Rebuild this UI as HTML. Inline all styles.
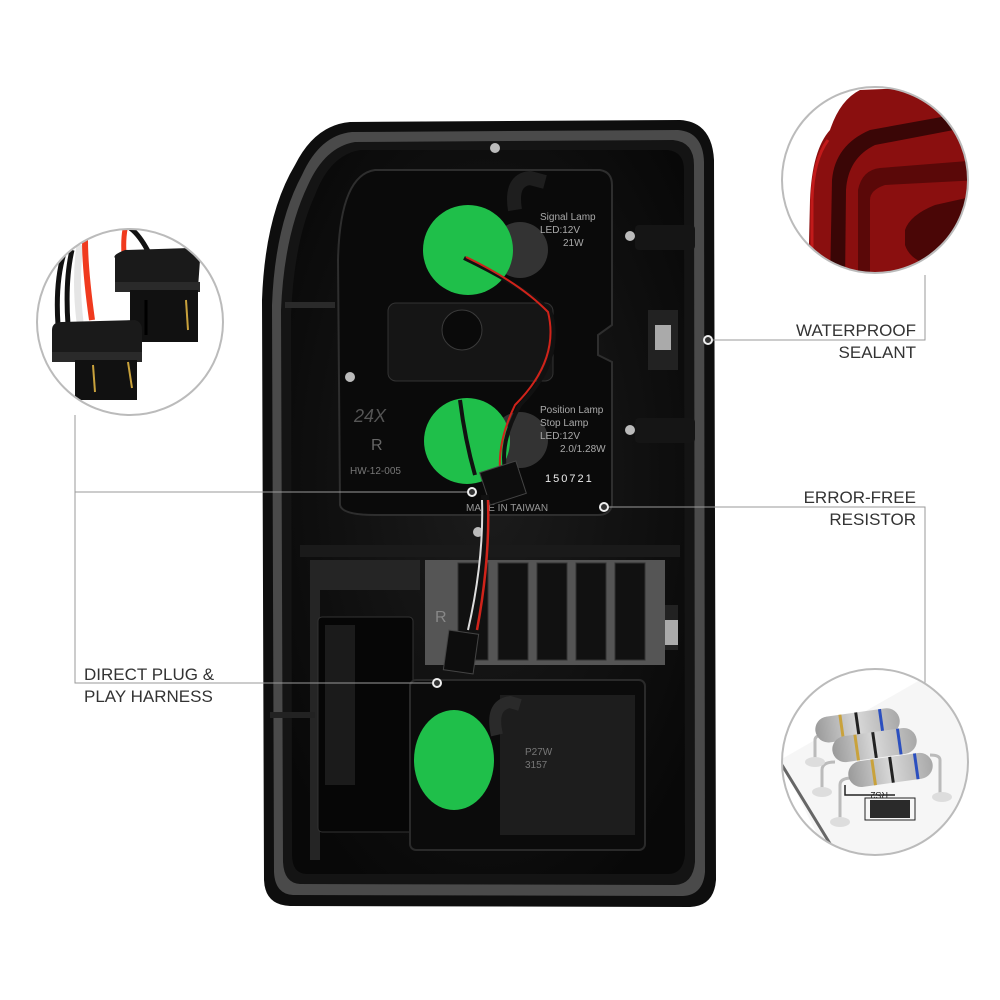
<!DOCTYPE html>
<html><head><meta charset="utf-8"><style>
html,body{margin:0;padding:0;background:#fff;}
svg{display:block}
text{font-family:"Liberation Sans",sans-serif;}
</style></head><body>
<svg width="1000" height="1000" viewBox="0 0 1000 1000" xmlns="http://www.w3.org/2000/svg">
<defs>
<radialGradient id="shade" cx="50%" cy="45%" r="65%"><stop offset="0" stop-color="#1c1c1c"/><stop offset="1" stop-color="#080808"/></radialGradient>
<linearGradient id="rg" x1="0" y1="0" x2="1" y2="0"><stop offset="0" stop-color="#9a9a9a"/><stop offset="0.5" stop-color="#d8d8d8"/><stop offset="1" stop-color="#a8a8a8"/></linearGradient>
<clipPath id="c1"><circle cx="130" cy="322" r="93"/></clipPath>
<clipPath id="c2"><circle cx="875" cy="180" r="93"/></clipPath>
<clipPath id="c3"><circle cx="875" cy="762" r="93"/></clipPath>
</defs>
<!-- housing -->
<path d="M350 122 L680 120 Q712 122 714 160 L716 880 Q714 906 690 907 L290 906 Q265 905 264 880 L262 300 Q265 215 295 165 Q315 125 350 122Z" fill="#0e0e0e"/>
<path d="M352 132 L678 130 Q703 132 704 162 L705 872 Q703 895 683 896 L293 895 Q275 894 274 872 L272 305 Q275 225 302 175 Q320 135 352 132Z" fill="#4a4a4a"/>
<path d="M355 142 L673 140 Q694 142 694 165 L695 862 Q693 884 675 885 L300 884 Q284 883 283 862 L281 310 Q284 235 308 185 Q325 147 355 142Z" fill="#141414"/>
<path d="M360 150 L668 150 Q684 152 684 170 L685 855 Q683 874 668 874 L306 874 Q292 873 292 855 L291 315 Q294 240 315 195 Q330 155 360 150Z" fill="url(#shade)"/>
<!-- upper plate -->
<path d="M375 170 L600 170 Q612 172 612 185 L612 325 L598 335 L598 355 L612 362 L612 505 Q610 515 598 515 L375 515 Q342 515 340 505 L338 260 Q340 175 375 170Z" fill="#0a0a0a" stroke="#2e2e2e" stroke-width="2"/>
<rect x="388" y="303" width="165" height="78" rx="8" fill="#151515" stroke="#333"/>
<circle cx="462" cy="330" r="20" fill="#0a0a0a" stroke="#3a3a3a"/>
<path d="M515 210 Q510 180 530 178 L545 182" stroke="#1e1e1e" stroke-width="14" fill="none"/>
<circle cx="520" cy="250" r="28" fill="#333"/>
<circle cx="520" cy="440" r="28" fill="#333"/>
<text x="540" y="220" fill="#aaa" font-size="10" font-family="Liberation Serif">Signal Lamp</text>
<text x="540" y="233" fill="#aaa" font-size="10" font-family="Liberation Serif">LED:12V</text>
<text x="563" y="246" fill="#aaa" font-size="10" font-family="Liberation Serif">21W</text>
<text x="540" y="413" fill="#aaa" font-size="10" font-family="Liberation Serif">Position Lamp</text>
<text x="540" y="426" fill="#aaa" font-size="10" font-family="Liberation Serif">Stop Lamp</text>
<text x="540" y="439" fill="#aaa" font-size="10" font-family="Liberation Serif">LED:12V</text>
<text x="560" y="452" fill="#aaa" font-size="10" font-family="Liberation Serif">2.0/1.28W</text>
<text x="354" y="422" fill="#555" font-size="18" font-family="Liberation Serif" font-style="italic">24X</text>
<text x="371" y="450" fill="#666" font-size="16">R</text>
<text x="350" y="474" fill="#777" font-size="10">HW-12-005</text>
<text x="545" y="482" fill="#eee" font-size="11" letter-spacing="2">150721</text>
<text x="466" y="511" fill="#999" font-size="10">MADE IN TAIWAN</text>
<!-- screws/clips -->
<g fill="#bbb"><circle cx="495" cy="148" r="5"/><circle cx="630" cy="236" r="5"/><circle cx="630" cy="430" r="5"/><circle cx="350" cy="377" r="5"/><circle cx="478" cy="532" r="5"/></g>
<rect x="635" y="225" width="60" height="25" rx="4" fill="#151515"/>
<rect x="635" y="418" width="60" height="25" rx="4" fill="#151515"/>
<rect x="648" y="310" width="30" height="60" fill="#222"/><rect x="655" y="325" width="16" height="25" fill="#aaa"/>
<rect x="648" y="605" width="30" height="45" fill="#222"/><rect x="650" y="620" width="28" height="25" fill="#aaa"/>
<rect x="285" y="302" width="50" height="6" fill="#2a2a2a"/>
<!-- lower area -->
<rect x="300" y="545" width="380" height="12" fill="#1a1a1a"/>
<path d="M310 560 L420 560 L420 590 L320 590 L320 860 L310 860Z" fill="#252525"/>
<rect x="425" y="560" width="240" height="105" fill="#555"/>
<g fill="#111" stroke="#333"><rect x="458" y="563" width="30" height="97"/><rect x="498" y="563" width="30" height="97"/><rect x="537" y="563" width="30" height="97"/><rect x="576" y="563" width="30" height="97"/><rect x="615" y="563" width="30" height="97"/></g>
<text x="435" y="622" fill="#888" font-size="16">R</text>
<rect x="318" y="617" width="95" height="215" rx="4" fill="#060606" stroke="#333"/>
<rect x="325" y="625" width="30" height="160" fill="#1b1b1b"/>
<rect x="410" y="680" width="235" height="170" rx="6" fill="#0b0b0b" stroke="#2a2a2a" stroke-width="2"/>
<rect x="500" y="695" width="135" height="140" fill="#1d1d1d"/>
<path d="M497 735 Q490 705 510 702 L520 705" stroke="#2a2a2a" stroke-width="12" fill="none"/>
<text x="525" y="755" fill="#777" font-size="10">P27W</text>
<text x="525" y="768" fill="#777" font-size="10">3157</text>
<rect x="270" y="712" width="45" height="6" fill="#222"/>
<!-- green sockets -->
<circle cx="468" cy="250" r="45" fill="#1fbf4a"/>
<circle cx="467" cy="441" r="43" fill="#1fbf4a"/>
<ellipse cx="454" cy="760" rx="40" ry="50" fill="#1fbf4a"/>
<!-- wires -->
<path d="M464 258 Q520 285 550 310 Q565 360 520 405 Q500 440 505 470" stroke="#111" stroke-width="4" fill="none"/>
<path d="M466 257 Q520 283 548 312 Q560 360 515 405 Q498 440 500 470" stroke="#d0231a" stroke-width="2" fill="none"/>
<path d="M460 400 Q465 440 475 475" stroke="#111" stroke-width="4" fill="none"/>
<rect x="484" y="466" width="38" height="34" fill="#0d0d0d" stroke="#444" transform="rotate(-18 503 483)"/>
<path d="M485 495 Q488 560 470 630" stroke="#111" stroke-width="8" fill="none"/>
<path d="M488 500 Q490 560 477 630" stroke="#d0231a" stroke-width="2.5" fill="none"/>
<path d="M482 500 Q484 560 468 630" stroke="#ddd" stroke-width="2" fill="none"/>
<rect x="446" y="632" width="30" height="40" fill="#0d0d0d" stroke="#444" transform="rotate(8 461 652)"/>
<!-- leader lines -->
<g stroke="#999" stroke-width="1" fill="none">
<path d="M75 415 L75 683 L437 683"/>
<path d="M75 492 L472 492"/>
<path d="M708 340 L925 340 L925 275"/>
<path d="M604 507 L925 507 L925 685"/>
</g>
<g fill="#333" stroke="#eee" stroke-width="2">
<circle cx="437" cy="683" r="4"/><circle cx="472" cy="492" r="4"/><circle cx="708" cy="340" r="4"/><circle cx="604" cy="507" r="4"/>
</g>
<!-- labels -->
<g fill="#333" font-size="17">
<text x="916" y="336" text-anchor="end">WATERPROOF</text>
<text x="916" y="358" text-anchor="end">SEALANT</text>
<text x="916" y="503" text-anchor="end">ERROR-FREE</text>
<text x="916" y="525" text-anchor="end">RESISTOR</text>
<text x="84" y="680">DIRECT PLUG &amp;</text>
<text x="84" y="702">PLAY HARNESS</text>
</g>
<!-- callout 1: connectors -->
<g clip-path="url(#c1)">
<rect x="30" y="220" width="200" height="200" fill="#fff"/>
<path d="M58 325 Q55 280 65 250" stroke="#111" stroke-width="5" fill="none"/>
<path d="M68 325 Q65 280 72 250" stroke="#111" stroke-width="5" fill="none"/>
<path d="M80 322 Q75 280 80 245" stroke="#e5e5e5" stroke-width="7" fill="none"/>
<path d="M92 320 Q85 270 85 240" stroke="#f03a1e" stroke-width="6" fill="none"/>
<path d="M125 265 Q122 240 126 225" stroke="#f03a1e" stroke-width="5" fill="none"/>
<path d="M150 255 Q140 235 130 228" stroke="#111" stroke-width="5" fill="none"/>
<path d="M115 258 Q112 255 125 250 L190 248 Q200 250 200 260 L198 288 L115 290Z" fill="#1a1a1a"/>
<rect x="115" y="282" width="85" height="10" fill="#2a2a2a"/>
<rect x="130" y="290" width="68" height="52" fill="#111"/>
<line x1="146" y1="300" x2="146" y2="335" stroke="#000" stroke-width="3"/>
<line x1="186" y1="300" x2="188" y2="330" stroke="#c9a23c" stroke-width="2"/>
<path d="M52 330 Q52 322 62 322 L135 320 Q142 322 142 330 L142 360 L52 362Z" fill="#1a1a1a"/>
<rect x="52" y="352" width="90" height="10" fill="#2a2a2a"/>
<rect x="75" y="360" width="62" height="40" fill="#111"/>
<line x1="93" y1="365" x2="95" y2="392" stroke="#c9a23c" stroke-width="2"/>
<line x1="128" y1="362" x2="132" y2="388" stroke="#c9a23c" stroke-width="2"/>
</g>
<circle cx="130" cy="322" r="93" fill="none" stroke="#bbb" stroke-width="2"/>
<!-- callout 2: red -->
<g clip-path="url(#c2)">
<rect x="780" y="85" width="200" height="200" fill="#fff"/>
<path d="M830 130 Q840 100 860 90 L980 85 L980 285 L808 285 L810 200 Q812 150 830 130Z" fill="#8a0f0f"/>
<path d="M830 285 L832 180 Q835 145 870 130 L980 110 L980 125 L875 145 Q848 158 846 190 L845 285Z" fill="#3a0606"/>
<path d="M858 285 L858 190 Q862 170 880 168 L980 160 L980 180 L885 185 Q870 190 870 200 L870 285Z" fill="#5a0808"/>
<path d="M905 230 Q910 215 935 205 L980 195 L980 260 L930 265 Q910 260 905 245Z" fill="#4a0606"/>
<path d="M812 285 L812 200 Q813 160 828 140" stroke="#c21a1a" stroke-width="3" fill="none"/>
</g>
<circle cx="875" cy="180" r="93" fill="none" stroke="#bbb" stroke-width="2"/>
<!-- callout 3: resistors -->
<g clip-path="url(#c3)">
<rect x="780" y="665" width="200" height="200" fill="#fff"/>
<path d="M780 760 L990 640 L990 880 L840 880Z" fill="#f6f6f6"/>
<path d="M782 765 L840 860" stroke="#666" stroke-width="3"/>
<g stroke="#bbb" stroke-width="3" fill="none">
<path d="M815 760 L815 740 Q815 735 825 735"/><path d="M822 790 L822 770 Q822 762 835 762"/><path d="M840 820 L840 785 Q840 778 852 778"/><path d="M940 795 L940 760 Q940 755 930 755"/>
</g>
<g fill="#ddd"><ellipse cx="815" cy="762" rx="10" ry="5"/><ellipse cx="822" cy="792" rx="10" ry="5"/><ellipse cx="840" cy="822" rx="10" ry="5"/><ellipse cx="942" cy="797" rx="10" ry="5"/></g>
<g transform="rotate(-8 860 725)"><rect x="815" y="712" width="85" height="26" rx="13" fill="url(#rg)"/><rect x="840" y="712" width="3" height="26" fill="#c9a23c"/><rect x="856" y="712" width="3" height="26" fill="#222"/><rect x="880" y="712" width="3" height="26" fill="#2b4fbf"/></g>
<g transform="rotate(-8 875 745)"><rect x="832" y="732" width="85" height="26" rx="13" fill="url(#rg)"/><rect x="855" y="732" width="3" height="26" fill="#c9a23c"/><rect x="873" y="732" width="3" height="26" fill="#222"/><rect x="898" y="732" width="3" height="26" fill="#2b4fbf"/></g>
<g transform="rotate(-8 890 770)"><rect x="848" y="757" width="85" height="26" rx="13" fill="url(#rg)"/><rect x="872" y="757" width="3" height="26" fill="#c9a23c"/><rect x="890" y="757" width="3" height="26" fill="#222"/><rect x="915" y="757" width="3" height="26" fill="#2b4fbf"/></g>
<path d="M845 785 L845 795 L895 795" stroke="#222" stroke-width="1.5" fill="none"/>
<text x="872" y="798" fill="#222" font-size="9" transform="rotate(180 880 795)">RS2</text>
<rect x="870" y="800" width="40" height="18" fill="#2a2a2a"/>
<rect x="865" y="798" width="50" height="22" fill="none" stroke="#222"/>
</g>
<circle cx="875" cy="762" r="93" fill="none" stroke="#bbb" stroke-width="2"/>
</svg>
</body></html>
